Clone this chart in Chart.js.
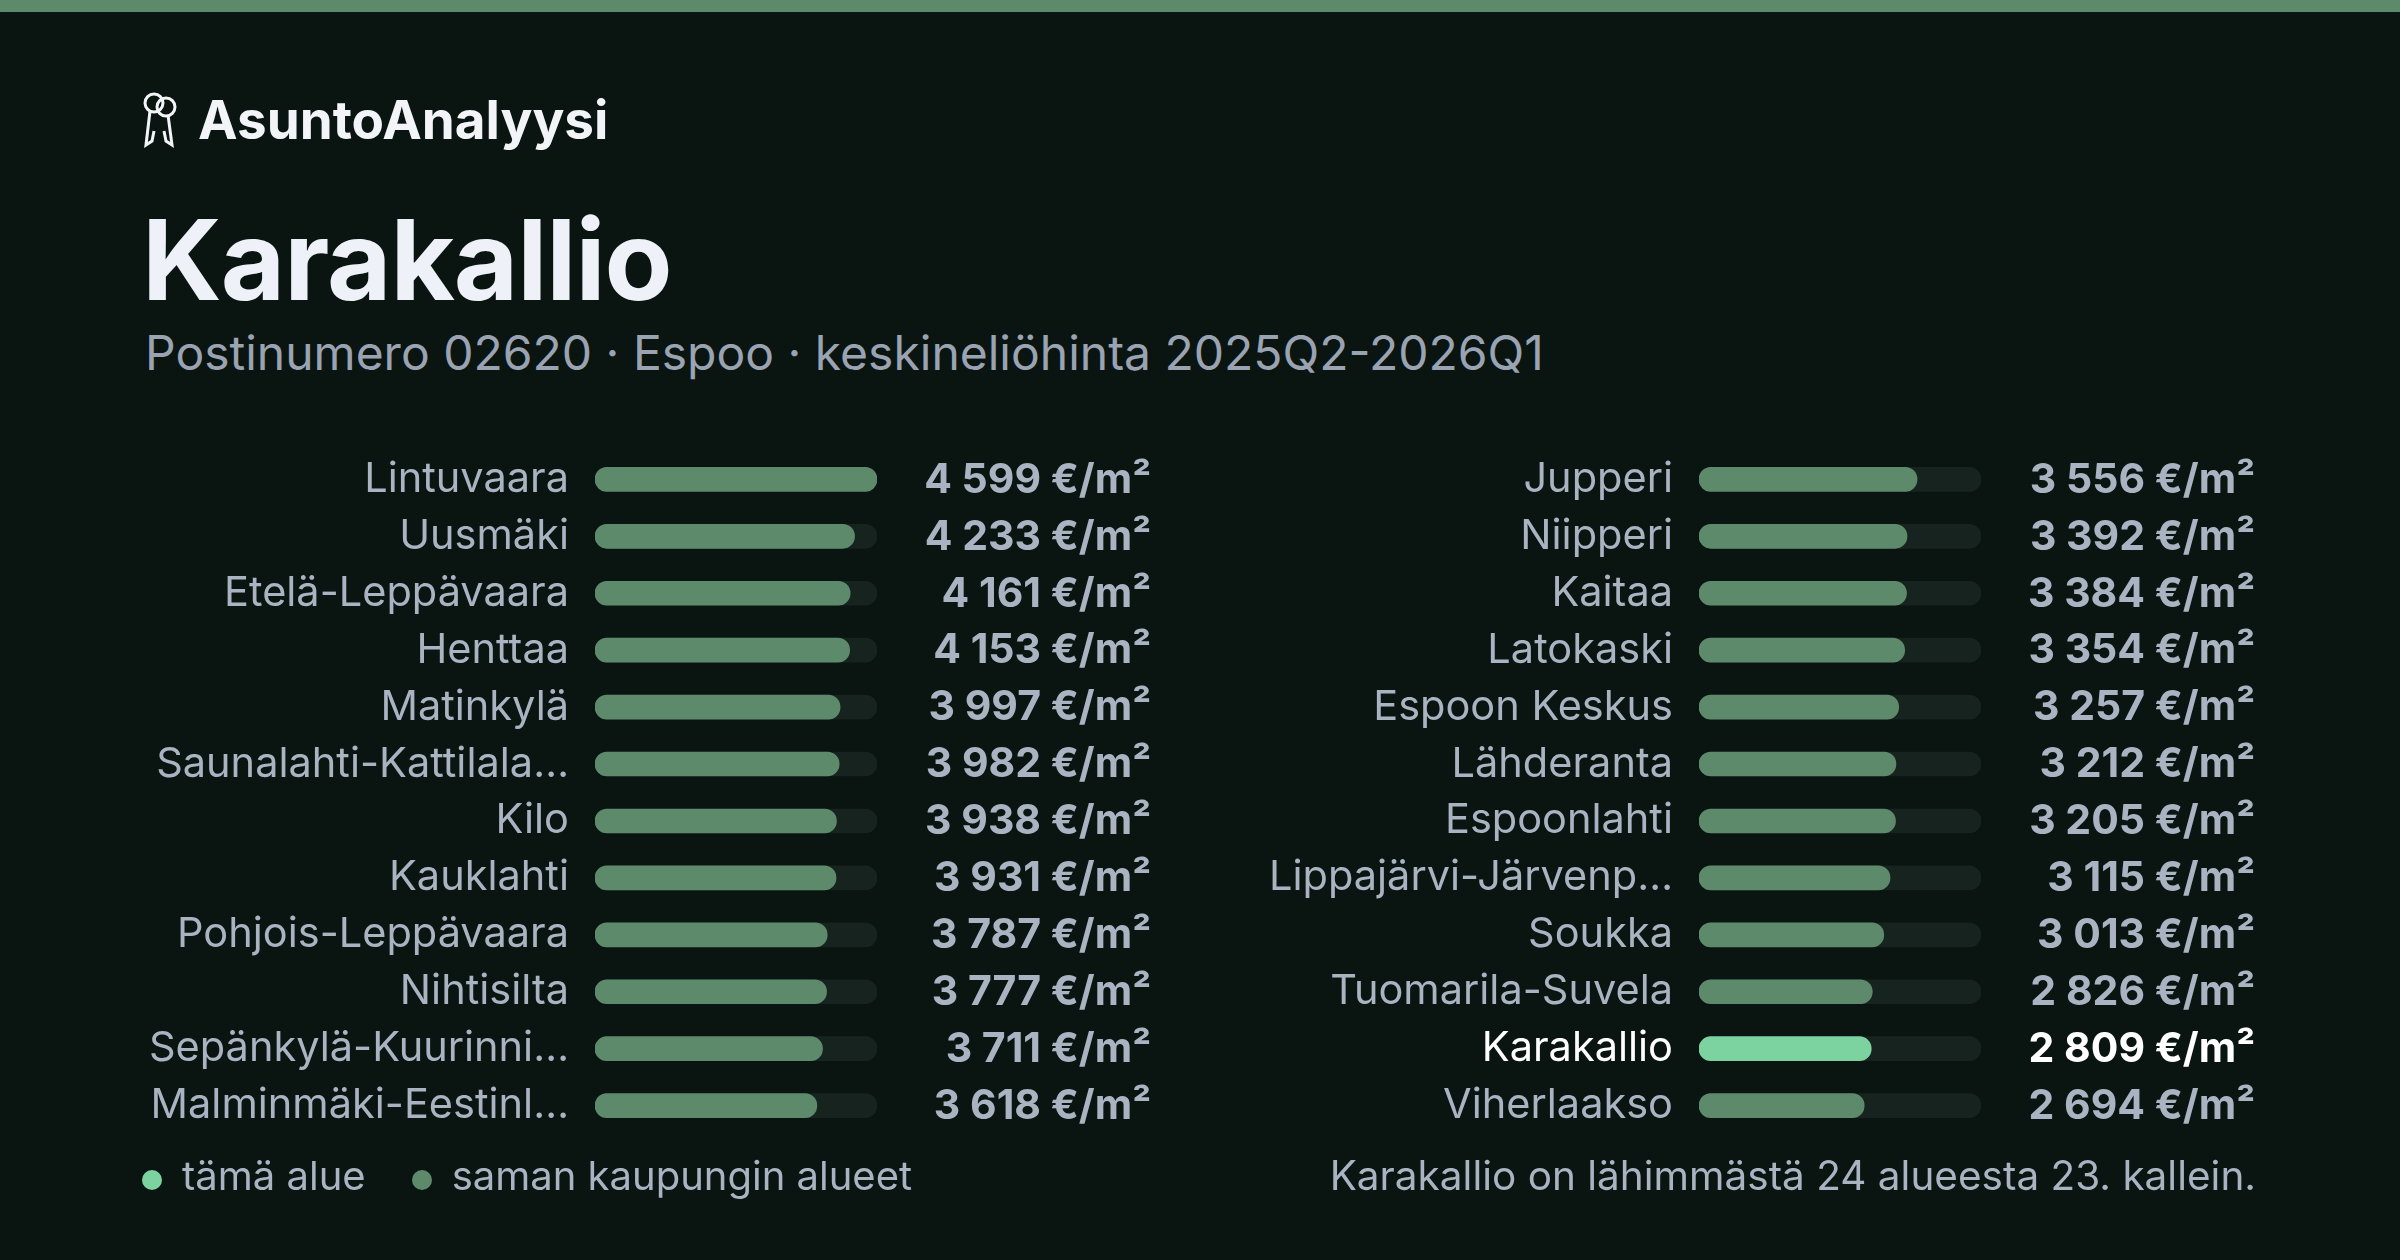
<!DOCTYPE html>
<html>
<head>
<meta charset="utf-8">
<script src="https://cdn.jsdelivr.net/npm/chart.js@4.4.1/dist/chart.umd.min.js"></script>
<style>
  html, body { margin: 0; padding: 0; }
  body { width: 2400px; height: 1260px; background: #0a1512; position: relative; overflow: hidden; font-family: Inter, "Noto Sans", sans-serif; }
  .stripe { position: absolute; left: 0; top: 0; width: 2400px; height: 12px; background: #5e8a6c; }
  .logo { position: absolute; left: 142px; top: 88px; color: #f2f4f8; font-weight: 700; font-size: 53px; display: flex; align-items: center; gap: 20px; }
  .title { position: absolute; left: 142px; top: 192px; color: #eef1f7; font-weight: 700; font-size: 111px; letter-spacing: -1px; }
  .sub { position: absolute; left: 145px; top: 323px; color: #9aa3b2; font-size: 48px; }
  canvas { position: absolute; }
  .legend { position: absolute; top: 1151px; left: 142px; color: #a9b3c1; font-size: 40px; display: flex; align-items: center; }
  .dot { display: inline-block; width: 20px; height: 20px; border-radius: 50%; margin-right: 20px; margin-top: 8px; }
  .note { position: absolute; top: 1151px; right: 144px; color: #a9b3c1; font-size: 40.5px; }
</style>
</head>
<body>
<div class="stripe"></div>
<div class="logo">
  <svg width="36" height="58" viewBox="0 0 36 58" fill="none" stroke="#f2f4f8" stroke-width="3">
    <circle cx="12" cy="12" r="9"/><circle cx="24" cy="16" r="9"/>
    <path d="M8 20 L4 54 L10 50 L12 40"/><path d="M26 24 L30 54 L24 50 L22 40"/>
  </svg>
  AsuntoAnalyysi
</div>
<div class="title">Karakallio</div>
<div class="sub">Postinumero 02620 · Espoo · keskineliöhinta 2025Q2-2026Q1</div>
<canvas id="left" width="1070" height="769" style="left:100px;top:408px"></canvas>
<canvas id="right" width="1070" height="769" style="left:1204px;top:408px"></canvas>
<div class="legend">
  <span class="dot" style="background:#7dd3a0"></span><span style="margin-right:46px">tämä alue</span>
  <span class="dot" style="background:#5e8a6c"></span><span>saman kaupungin alueet</span>
</div>
<div class="note">Karakallio on lähimmästä 24 alueesta 23. kallein.</div>
<script>
const leftAreas = ["Lintuvaara", "Uusmäki", "Etelä-Leppävaara", "Henttaa", "Matinkylä", "Saunalahti-Kattilala…", "Kilo", "Kauklahti", "Pohjois-Leppävaara", "Nihtisilta", "Sepänkylä-Kuurinni…", "Malminmäki-Eestinl…"];
const leftPrices = [4599, 4233, 4161, 4153, 3997, 3982, 3938, 3931, 3787, 3777, 3711, 3618];
const rightAreas = ["Jupperi", "Niipperi", "Kaitaa", "Latokaski", "Espoon Keskus", "Lähderanta", "Espoonlahti", "Lippajärvi-Järvenp…", "Soukka", "Tuomarila-Suvela", "Karakallio", "Viherlaakso"];
const rightPrices = [3556, 3392, 3384, 3354, 3257, 3212, 3205, 3115, 3013, 2826, 2809, 2694];
const currentArea = "Karakallio";
const maxPrice = 4599;

const GREEN = "#5e8a6c", HIGHLIGHT = "#7dd3a0", TRACK = "#17231f";
const LABEL = "#a9b3c1", WHITE = "#ffffff";

function fmt(v) {
  return String(v).replace(/\B(?=(\d{3})+(?!\d))/g, " ") + " €/m²";
}

const valueText = {
  id: "valueText",
  afterDatasetsDraw(chart) {
    const ctx = chart.ctx;
    const meta = chart.getDatasetMeta(1);
    const labels = chart.data.labels;
    ctx.save();
    ctx.font = "700 41px Inter";
    ctx.textAlign = "right";
    ctx.textBaseline = "middle";
    chart.data.datasets[1].data.forEach((v, i) => {
      ctx.fillStyle = labels[i] === currentArea ? WHITE : LABEL;
      ctx.fillText(fmt(v), 1051, meta.data[i].y + 1);
    });
    ctx.restore();
  }
};

function BarChart(id, areas, prices) {
  return new Chart(document.getElementById(id), {
    type: "bar",
    data: {
      labels: areas,
      datasets: [
        {
          data: areas.map(() => maxPrice),
          backgroundColor: TRACK,
          borderRadius: 12, borderSkipped: false,
          barThickness: 24, order: 2, grouped: false
        },
        {
          data: prices,
          backgroundColor: areas.map(a => a === currentArea ? HIGHLIGHT : GREEN),
          borderRadius: 12, borderSkipped: false,
          barThickness: 24, order: 1, grouped: false
        }
      ]
    },
    options: {
      indexAxis: "y",
      responsive: false,
      animation: false,
      layout: { padding: { right: 293, top: 0, bottom: 0, left: 0 } },
      plugins: { legend: { display: false }, tooltip: { enabled: false } },
      scales: {
        x: { display: false, min: 0, max: maxPrice },
        y: {
          grid: { display: false },
          border: { display: false },
          afterFit: (scale) => { scale.width = 495; },
          ticks: {
            padding: 18,
            font: { family: "Inter", size: 41.5 },
            color: (c) => areas[c.index] === currentArea ? WHITE : LABEL
          }
        }
      }
    },
    plugins: [valueText]
  });
}

BarChart("left", leftAreas, leftPrices);
BarChart("right", rightAreas, rightPrices);
</script>
</body>
</html>
